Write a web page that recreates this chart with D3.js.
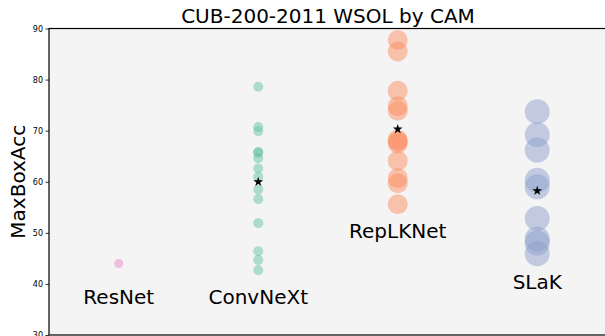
<!DOCTYPE html>
<html>
<head>
<meta charset="utf-8">
<script src="https://cdn.jsdelivr.net/npm/d3@7"></script>
<style>
  html, body { margin: 0; padding: 0; background: #ffffff; }
  svg { display: block; font-family: "DejaVu Sans", sans-serif; }
</style>
</head>
<body>
<svg id="chart" width="605" height="336"></svg>
<script>
// Model families along the x axis
const models = ["ResNet", "ConvNeXt", "RepLKNet", "SLaK"];

// MaxBoxAcc of each trained checkpoint, per family
const resnetAcc   = [44.0];
const convnextAcc = [78.6, 70.7, 69.9, 65.8, 65.7, 64.6, 62.6, 61.0, 58.5, 56.6, 51.9, 46.4, 44.7, 42.7];
const replknetAcc = [87.75, 85.5, 77.8, 74.8, 73.9, 68.2, 67.9, 67.5, 64.1, 60.7, 59.7, 55.6];
const slakAcc     = [73.7, 69.2, 66.2, 60.3, 59.0, 52.8, 48.8, 48.0, 45.9];

// Height (in MaxBoxAcc units) of each family's name label
const labelAt = [36, 36, 49, 39];

// Y axis ticks
const yTicks = [30, 40, 50, 60, 70, 80, 90];

const groups = [resnetAcc, convnextAcc, replknetAcc, slakAcc];
const colors = ["#e78ac3", "#66c2a5", "#fc8d62", "#8da0cb"];
const radii  = [4.5, 5, 10, 12.5];

const svg = d3.select("#chart");
const plot = { left: 49, right: 607, top: 28.5, bottom: 335 };

const x = d3.scaleLinear().domain([-0.5, 3.5]).range([plot.left, plot.right]);
const y = d3.scaleLinear().domain([30, 90]).range([plot.bottom, plot.top]);

// Plot background
svg.append("rect")
  .attr("x", plot.left).attr("y", plot.top)
  .attr("width", plot.right - plot.left).attr("height", plot.bottom - plot.top)
  .attr("fill", "#f4f4f4");

// Scatter points
groups.forEach((vals, i) => {
  svg.append("g")
    .selectAll("circle")
    .data(vals)
    .join("circle")
    .attr("cx", x(i))
    .attr("cy", d => y(d))
    .attr("r", radii[i])
    .attr("fill", colors[i])
    .attr("fill-opacity", 0.5);
});

// Family labels
svg.append("g")
  .selectAll("text")
  .data(models)
  .join("text")
  .attr("x", (d, i) => x(i))
  .attr("y", (d, i) => y(labelAt[i]))
  .attr("text-anchor", "middle")
  .attr("font-size", 20)
  .attr("fill", "#000")
  .text(d => d);

// Mean markers for families with several checkpoints
const star = d3.symbol().type(d3.symbolStar).size(30);
svg.append("g")
  .selectAll("path")
  .data(groups.map((v, i) => ({ i, v })).filter(d => d.v.length > 1))
  .join("path")
  .attr("d", star)
  .attr("transform", d => `translate(${x(d.i)},${y(d3.mean(d.v))})`)
  .attr("fill", "#000");

// Y axis
const yAxis = d3.axisLeft(y).tickValues(yTicks).tickSize(3.5).tickPadding(2.5);
const ga = svg.append("g")
  .attr("transform", `translate(${plot.left},0)`)
  .call(yAxis);
ga.select(".domain").remove();
ga.selectAll("text").attr("font-size", 8).attr("fill", "#000").attr("font-family", "DejaVu Sans, sans-serif");
ga.selectAll("line").attr("stroke", "#000").attr("stroke-width", 0.8);

// Frame
svg.append("rect")
  .attr("x", plot.left).attr("y", plot.top)
  .attr("width", plot.right - plot.left).attr("height", plot.bottom - plot.top)
  .attr("fill", "none")
  .attr("stroke", "#000")
  .attr("stroke-width", 1.2);

// Y axis title
svg.append("text")
  .attr("transform", `translate(25,${(plot.top + plot.bottom) / 2}) rotate(-90)`)
  .attr("text-anchor", "middle")
  .attr("font-size", 20)
  .attr("fill", "#000")
  .text("MaxBoxAcc");

// Chart title
svg.append("text")
  .attr("x", (plot.left + plot.right) / 2)
  .attr("y", 23.3)
  .attr("text-anchor", "middle")
  .attr("font-size", 20)
  .attr("fill", "#000")
  .text("CUB-200-2011 WSOL by CAM");
</script>
</body>
</html>
